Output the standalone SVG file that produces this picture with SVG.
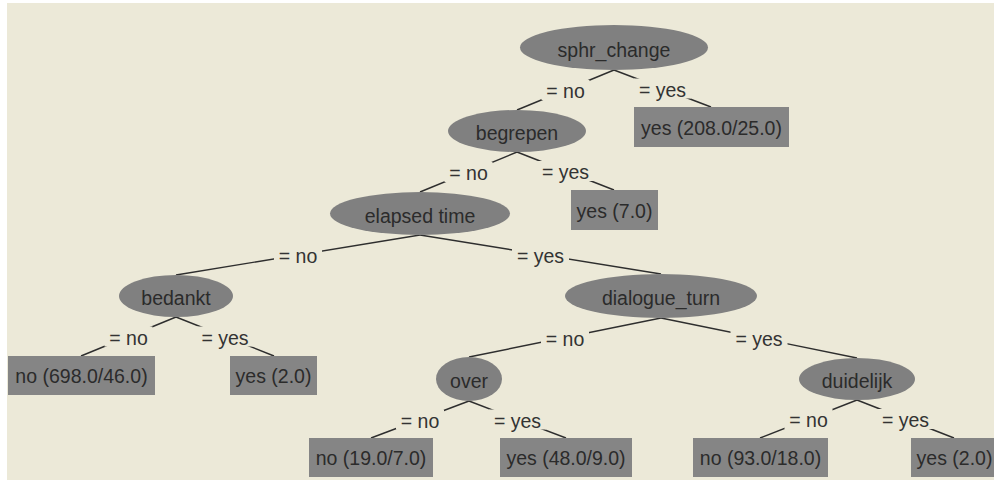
<svg xmlns="http://www.w3.org/2000/svg" width="994" height="482" viewBox="0 0 994 482">
<defs>
<style>
.node{fill:#808080;stroke:none}
.leaf{fill:#858585;stroke:none}
.t{font-family:"Liberation Sans",Arial,sans-serif;font-size:19.5px;fill:#2b2b2b;text-anchor:middle}
.edge{stroke:#2e2e2e;stroke-width:1.4;fill:none}
.lb{fill:#ECE9D8}
.lt{font-family:"Liberation Sans",Arial,sans-serif;font-size:19.5px;fill:#333;text-anchor:middle}
</style>
</defs>
<rect x="0" y="0" width="994" height="482" fill="#ffffff"/>
<rect x="7" y="3" width="987" height="477" fill="#ECE9D8"/>

<g id="connectors">
<line class="edge" x1="614" y1="70" x2="517" y2="110"/>
<line class="edge" x1="614" y1="70" x2="711" y2="107"/>
<line class="edge" x1="517" y1="152" x2="420" y2="192"/>
<line class="edge" x1="517" y1="152" x2="614" y2="190"/>
<line class="edge" x1="420" y1="235" x2="176" y2="275"/>
<line class="edge" x1="420" y1="235" x2="661" y2="274"/>
<line class="edge" x1="176" y1="317" x2="81" y2="356"/>
<line class="edge" x1="176" y1="317" x2="274" y2="356"/>
<line class="edge" x1="661" y1="318" x2="469" y2="357"/>
<line class="edge" x1="661" y1="318" x2="857" y2="358"/>
<line class="edge" x1="469" y1="401" x2="371" y2="438"/>
<line class="edge" x1="469" y1="401" x2="566" y2="438"/>
<line class="edge" x1="857" y1="400" x2="760" y2="438"/>
<line class="edge" x1="857" y1="400" x2="954" y2="438"/>
<g id="edge-labels">
<rect class="lb" x="541.5" y="80" width="48" height="20"/><text class="lt" x="565.5" y="98">= no</text>
<rect class="lb" x="634" y="78.5" width="57" height="20"/><text class="lt" x="662.5" y="97">= yes</text>
<rect class="lb" x="444.5" y="162" width="48" height="20"/><text class="lt" x="468.5" y="180">= no</text>
<rect class="lb" x="537" y="161" width="57" height="20"/><text class="lt" x="565.5" y="179">= yes</text>
<rect class="lb" x="274" y="245" width="48" height="20"/><text class="lt" x="298" y="263">= no</text>
<rect class="lb" x="512" y="244.5" width="57" height="20"/><text class="lt" x="540.5" y="262.5">= yes</text>
<rect class="lb" x="104.5" y="326.5" width="48" height="20"/><text class="lt" x="128.5" y="344.5">= no</text>
<rect class="lb" x="196.5" y="326.5" width="57" height="20"/><text class="lt" x="225" y="344.5">= yes</text>
<rect class="lb" x="541" y="327.5" width="48" height="20"/><text class="lt" x="565" y="345.5">= no</text>
<rect class="lb" x="730.5" y="328" width="57" height="20"/><text class="lt" x="759" y="346">= yes</text>
<rect class="lb" x="396" y="409.5" width="48" height="20"/><text class="lt" x="420" y="427.5">= no</text>
<rect class="lb" x="489" y="409.5" width="57" height="20"/><text class="lt" x="517.5" y="427.5">= yes</text>
<rect class="lb" x="784.5" y="409" width="48" height="20"/><text class="lt" x="808.5" y="427">= no</text>
<rect class="lb" x="877" y="409" width="57" height="20"/><text class="lt" x="905.5" y="427">= yes</text>
</g>
</g>

<g id="n-sphr_change"><ellipse class="node" cx="614" cy="47.5" rx="94" ry="22.5"/><text class="t" x="614" y="57">sphr_change</text></g>
<g id="n-begrepen"><ellipse class="node" cx="517" cy="131" rx="69" ry="21"/><text class="t" x="517" y="140">begrepen</text></g>
<g id="n-elapsed_time"><ellipse class="node" cx="420" cy="213.5" rx="90" ry="21.5"/><text class="t" x="420" y="222.5">elapsed time</text></g>
<g id="n-bedankt"><ellipse class="node" cx="176" cy="296" rx="57" ry="21"/><text class="t" x="176" y="305">bedankt</text></g>
<g id="n-dialogue_turn"><ellipse class="node" cx="661" cy="296" rx="96" ry="22"/><text class="t" x="661" y="305">dialogue_turn</text></g>
<g id="n-over"><ellipse class="node" cx="469" cy="379" rx="33" ry="22"/><text class="t" x="469" y="388">over</text></g>
<g id="n-duidelijk"><ellipse class="node" cx="857" cy="379" rx="58" ry="21"/><text class="t" x="857" y="388">duidelijk</text></g>

<g id="l-yes-208"><rect class="leaf" x="634" y="107" width="155" height="40"/><text class="t" x="711.5" y="134.5">yes (208.0/25.0)</text></g>
<g id="l-yes-7"><rect class="leaf" x="571" y="190" width="87" height="40"/><text class="t" x="614.5" y="217.5">yes (7.0)</text></g>
<g id="l-no-698"><rect class="leaf" x="8" y="356" width="147" height="39"/><text class="t" x="81.5" y="383">no (698.0/46.0)</text></g>
<g id="l-yes-2a"><rect class="leaf" x="230" y="356" width="87" height="39"/><text class="t" x="273.5" y="383">yes (2.0)</text></g>
<g id="l-no-19"><rect class="leaf" x="309" y="438" width="124" height="39"/><text class="t" x="371" y="465">no (19.0/7.0)</text></g>
<g id="l-yes-48"><rect class="leaf" x="500" y="438" width="132" height="39"/><text class="t" x="566" y="465">yes (48.0/9.0)</text></g>
<g id="l-no-93"><rect class="leaf" x="693" y="438" width="135" height="39"/><text class="t" x="760.5" y="465">no (93.0/18.0)</text></g>
<g id="l-yes-2b"><rect class="leaf" x="911" y="438" width="87" height="39"/><text class="t" x="954.5" y="465">yes (2.0)</text></g>
</svg>
